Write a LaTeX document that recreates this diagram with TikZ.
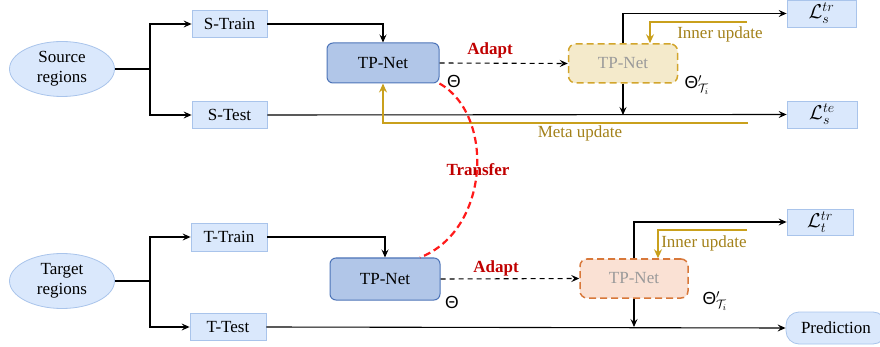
\documentclass[tikz,border=0pt]{standalone}
\usepackage{fix-cm}
\usepackage{fontspec}
\setmainfont{Liberation Serif}
\newfontfamily\thetafont{Liberation Sans}
\usetikzlibrary{arrows.meta,shapes.geometric}

\definecolor{boxblue}{HTML}{DAE8FC}
\definecolor{boxblueline}{HTML}{A9C4EB}
\definecolor{netblue}{HTML}{B1C6E8}
\definecolor{netblueline}{HTML}{4D74B8}
\definecolor{beigefill}{HTML}{F4EACB}
\definecolor{beigeline}{HTML}{D2A52C}
\definecolor{peachfill}{HTML}{FAE1D4}
\definecolor{peachline}{HTML}{D8783A}
\definecolor{goldline}{HTML}{C9A01C}
\definecolor{goldtext}{HTML}{A3811A}
\definecolor{redtext}{HTML}{C00000}
\definecolor{redcurve}{HTML}{FF1A1A}
\definecolor{greytext}{HTML}{9A9A9A}

\tikzset{
  every node/.style={font=\fontsize{17}{19}\selectfont},
  databox/.style={draw=boxblueline, fill=boxblue, line width=0.8pt,
    minimum width=75pt, minimum height=27pt, inner sep=0pt},
  region/.style={ellipse, draw=boxblueline, fill=boxblue, line width=0.8pt,
    minimum width=105pt, minimum height=55pt, align=center, inner sep=0pt,
    font=\fontsize{17}{20}\selectfont},
  netbox/.style={draw=netblueline, fill=netblue, line width=1pt,
    rounded corners=6pt, minimum width=112pt, minimum height=40pt, inner sep=0pt},
  adaptbox/.style={dashed, dash pattern=on 7pt off 4pt, line width=1.5pt,
    rounded corners=7pt, minimum width=109pt, minimum height=39pt,
    inner sep=0pt, text=greytext},
  flow/.style={line width=1.1pt, -{Stealth[length=8pt,width=7pt,inset=3pt]}},
  plain/.style={line width=1.1pt},
  dflow/.style={line width=1.1pt, dash pattern=on 5pt off 4pt,
    -{Stealth[length=8pt,width=7pt,inset=3pt]}},
  goldflow/.style={goldline, line width=1.8pt,
    -{Stealth[length=9pt,width=8pt,inset=3pt]}},
  redlabel/.style={text=redtext, font=\fontsize{17}{19}\selectfont\bfseries},
  goldlabel/.style={text=goldtext},
  thetalabel/.style={font=\fontsize{17.5}{19}\selectfont\thetafont},
  losslabel/.style={font=\fontsize{20}{22}\selectfont},
}

\begin{document}
\begin{tikzpicture}[x=1pt,y=-1pt]
\useasboundingbox (0,0) rectangle (880,347);

% source branch
\node[region] (src) at (62,69) {Source\\regions};
\node[databox] (strain) at (229.5,24) {S-Train};
\node[databox] (stest) at (229.5,115) {S-Test};
\node[netbox] (tp1) at (383,63) {TP-Net};
\node[adaptbox, draw=beigeline, fill=beigefill] (tpa) at (623,63.5) {TP-Net};
\node[databox, losslabel, minimum width=69pt] (lstr) at (821.5,13.5) {$\mathcal{L}_s^{tr}$};
\node[databox, losslabel, minimum width=70pt] (lste) at (822,114.5) {$\mathcal{L}_s^{te}$};

% target branch
\node[region] (tgt) at (62,281) {Target\\regions};
\node[databox, minimum width=76pt, minimum height=28pt] (ttrain) at (229,237) {T-Train};
\node[databox, minimum width=76pt] (ttest) at (228,327) {T-Test};
\node[netbox, minimum width=110pt, minimum height=42pt] (tp2) at (385,279) {TP-Net};
\node[adaptbox, draw=peachline, fill=peachfill, minimum width=108pt] (tpb) at (634,278.5) {TP-Net};
\node[databox, losslabel, minimum width=66pt, minimum height=26pt] (lttr) at (820,222) {$\mathcal{L}_t^{tr}$};
\node[databox, rounded corners=13pt, minimum width=100pt, minimum height=32pt,
      text width=94pt, align=left, inner xsep=0pt] (pred) at (836,328)
      {\hspace*{12pt}Prediction};

% junctions
\coordinate (js) at (150,69);
\coordinate (jt) at (150,281);

% source connectors
\draw[plain] (src.east) -- (js);
\draw[flow] (js) |- (strain.west);
\draw[flow] (js) |- (stest.west);
\draw[flow] (strain.east) -| (tp1.north);
\draw[dflow] (tp1.east) -- (tpa.west);
\draw[flow] (tpa.north) |- (lstr.west);
\draw[flow] (stest.east) -- (lste.west);
\draw[flow] (tpa.south) -- (tpa.south |- stest.east);

% target connectors
\draw[plain] (tgt.east) -- (jt);
\draw[flow] (jt) |- (ttrain.west);
\draw[flow] (jt) |- (ttest.west);
\draw[flow] (ttrain.east) -| (tp2.north);
\draw[dflow] (tp2.east) -- (tpb.west);
\draw[flow] (tpb.north) |- (lttr.west);
\draw[flow] (ttest.east) -- (pred.west);
\draw[flow] (tpb.south) -- (tpb.south |- ttest.east);

% inner and meta updates
\coordinate (iu1) at (747,22);
\coordinate (mu) at (748,123);
\coordinate (iu2) at (747,230);
\draw[goldflow] (iu1) -| ([xshift=27pt]tpa.north);
\draw[goldflow] (mu) -| (tp1.south);
\draw[goldflow] (iu2) -| ([xshift=24pt]tpb.north);
\node[goldlabel] (iulab1) at (720,34) {Inner update};
\node[goldlabel] (mulab) at (580,133) {Meta update};
\node[goldlabel] (iulab2) at (704,243) {Inner update};

% transfer between the two networks
\draw[redcurve, line width=2.2pt, dash pattern=on 7pt off 4pt]
  (tp1.south east) .. controls (495,115) and (490,230) .. ([xshift=35pt]tp2.north);
\node[redlabel] (transfer) at (478,170) {Transfer};

% adapt labels
\node[redlabel] (adapt1) at (490,50) {Adapt};
\node[redlabel] (adapt2) at (496,268) {Adapt};

% parameters
\node[thetalabel] (th1) at (454,81) {Θ};
\node[thetalabel] (th2) at (452,302) {Θ};
\node[thetalabel, anchor=west] (th1p) at (681,85) {Θ$'_{\mathcal{T}_i}$};
\node[thetalabel, anchor=west] (th2p) at (699,301) {Θ$'_{\mathcal{T}_i}$};
\end{tikzpicture}
\end{document}
